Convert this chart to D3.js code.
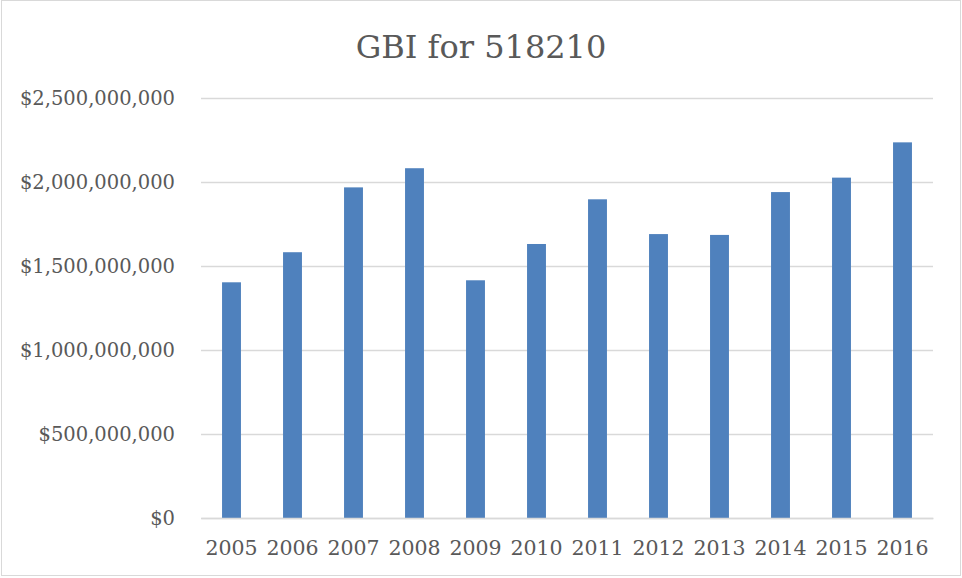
<!DOCTYPE html>
<meta charset="utf-8">
<script src="https://d3js.org/d3.v7.min.js"></script>
<style>
  body { margin: 0; background: #fff; }
  text { font-family: "DejaVu Serif", serif; fill: #595959; }
</style>
<div id="chart"></div>
<script>
  // data
  var years = ["2005", "2006", "2007", "2008", "2009", "2010", "2011", "2012", "2013", "2014", "2015", "2016"];
  var gbi = [1403e6, 1582e6, 1968e6, 2082e6, 1415e6, 1631e6, 1897e6, 1690e6, 1685e6, 1940e6, 2026e6, 2236e6];
  var yTicks = [0, 500e6, 1000e6, 1500e6, 2000e6, 2500e6];

  var W = 962, H = 578;
  var margin = { top: 98, right: 29, bottom: 60, left: 201 },
    width = W - margin.left - margin.right,
    height = H - margin.top - margin.bottom;

  var svg = d3.select("#chart").append("svg")
    .attr("width", W)
    .attr("height", H);

  // chart border
  svg.append("rect")
    .attr("x", 1.5).attr("y", 0.5)
    .attr("width", W - 3).attr("height", H - 3)
    .attr("fill", "#fff")
    .attr("stroke", "#d9d9d9");

  svg.append("text")
    .attr("x", 481).attr("y", 58)
    .attr("text-anchor", "middle")
    .style("font-size", "32px")
    .text("GBI for 518210");

  var g = svg.append("g")
    .attr("transform", "translate(" + margin.left + "," + margin.top + ")");

  var x = d3.scaleBand()
    .domain(years)
    .range([0, width])
    .paddingInner(0.69)
    .paddingOuter(0.345);

  var y = d3.scaleLinear()
    .domain([0, 2500e6])
    .range([height, 0]);

  var fmt = d3.format("$,.0f");

  // gridlines + y labels
  var yAxis = d3.axisLeft(y)
    .tickValues(yTicks)
    .tickSize(-width)
    .tickPadding(26)
    .tickFormat(fmt);
  var gy = g.append("g").call(yAxis);
  gy.select(".domain").remove();
  gy.selectAll(".tick line").attr("stroke", "#d9d9d9").attr("stroke-width", 1.5);
  gy.selectAll(".tick text")
    .style("font-size", "19.5px")
    .attr("fill", "#595959");

  g.selectAll(".bar")
    .data(gbi)
    .enter().append("rect")
    .attr("class", "bar")
    .attr("x", function (d, i) { return x(years[i]); })
    .attr("width", x.bandwidth())
    .attr("y", function (d) { return y(d); })
    .attr("height", function (d) { return height - y(d); })
    .attr("fill", "#4f81bd");

  // x axis
  var xAxis = d3.axisBottom(x).tickSize(0).tickPadding(22);
  var gx = g.append("g")
    .attr("transform", "translate(0," + height + ")")
    .call(xAxis);
  gx.select(".domain").attr("stroke", "#d9d9d9").attr("stroke-width", 1.5);
  gx.selectAll(".tick text")
    .style("font-size", "20.5px")
    .attr("fill", "#595959");
</script>
